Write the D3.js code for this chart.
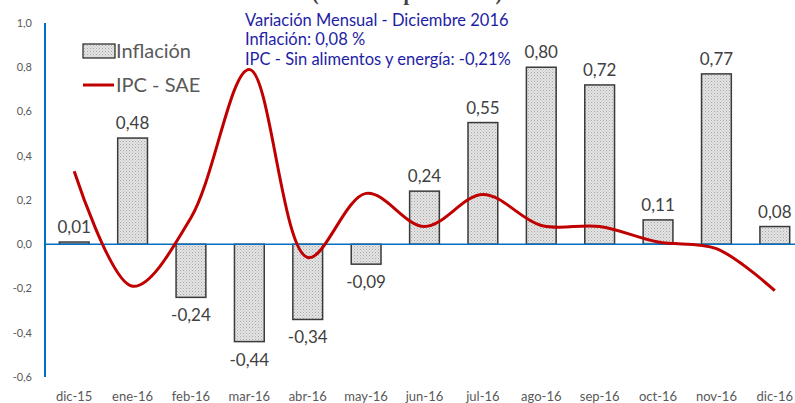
<!DOCTYPE html>
<html><head><meta charset="utf-8">
<script src="https://cdn.jsdelivr.net/npm/d3@7"></script>
<style>html,body{margin:0;padding:0;background:#fff;overflow:hidden}</style>
</head><body>
<svg id="c" width="795" height="403"></svg>
<script>
const categories = ["dic-15","ene-16","feb-16","mar-16","abr-16","may-16","jun-16","jul-16","ago-16","sep-16","oct-16","nov-16","dic-16"];
const inflacion = [0.01,0.48,-0.24,-0.44,-0.34,-0.09,0.24,0.55,0.80,0.72,0.11,0.77,0.08];
const ipcSae = [0.33,-0.19,0.12,0.79,-0.06,0.23,0.08,0.225,0.085,0.08,0.01,-0.02,-0.21];
const yTicks = [1.0,0.8,0.6,0.4,0.2,0.0,-0.2,-0.4,-0.6];
const title = "(variación porcentual)";
const notes = ["Variación Mensual - Diciembre 2016","Inflación: 0,08 %","IPC - Sin alimentos y energía: -0,21%"];
const legendLabels = ["Inflación","IPC - SAE"];

const svg = d3.select("#c");
const fmt = v => d3.format(".2f")(v).replace(".", ",").replace("\u2212","-");
const fmt1 = v => d3.format(".1f")(v).replace(".", ",").replace("\u2212","-");

const x = d3.scaleBand().domain(categories).range([45, 804]).paddingInner(0.49).paddingOuter(0.245);
const y = d3.scaleLinear().domain([-0.6, 1.0]).range([377, 23]);

const defs = svg.append("defs");
const pat = defs.append("pattern").attr("id","dots").attr("patternUnits","userSpaceOnUse").attr("width",3).attr("height",3);
pat.append("rect").attr("width",3).attr("height",3).attr("fill","#e4e4e4");
pat.append("rect").attr("x",0).attr("y",0).attr("width",1).attr("height",1).attr("fill","#a8a8a8");
pat.append("rect").attr("x",1.5).attr("y",1.5).attr("width",1).attr("height",1).attr("fill","#b8b8b8");

// title (clipped at top, as in the reference)
svg.append("text").attr("x", 407).attr("y", -0.5).attr("text-anchor","middle")
  .attr("font-family","Liberation Serif, serif").attr("font-weight","bold").attr("font-size",20)
  .attr("fill","#404040").text(title);

// y tick labels
svg.append("g").selectAll("text").data(yTicks).join("text")
  .attr("x", 32).attr("y", d => y(d)).attr("dy","0.35em").attr("text-anchor","end")
  .attr("font-family","Lato, sans-serif").attr("font-size",11).attr("fill","#595959")
  .text(d => fmt1(d));

// x labels
svg.append("g").selectAll("text").data(categories).join("text")
  .attr("x", d => x(d) + x.bandwidth()/2).attr("y", 401).attr("text-anchor","middle")
  .attr("font-family","Lato, sans-serif").attr("font-size",13).attr("fill","#595959")
  .text(d => d);

// bars
svg.append("g").selectAll("rect").data(inflacion).join("rect")
  .attr("x", (d,i) => x(categories[i]))
  .attr("width", x.bandwidth())
  .attr("y", d => y(Math.max(0,d)))
  .attr("height", d => Math.abs(y(d) - y(0)))
  .attr("fill","url(#dots)").attr("stroke","#3a3a3a").attr("stroke-width",1.5);

// axes lines
svg.append("line").attr("x1",45).attr("x2",795).attr("y1",y(0)).attr("y2",y(0))
  .attr("stroke","#0070C0").attr("stroke-width",1.5);
svg.append("line").attr("x1",45).attr("x2",45).attr("y1",y(1.0)).attr("y2",y(-0.6))
  .attr("stroke","#0070C0").attr("stroke-width",2);

// bar labels
svg.append("g").selectAll("text").data(inflacion).join("text")
  .attr("x", (d,i) => x(categories[i]) + x.bandwidth()/2)
  .attr("y", d => d >= 0 ? y(d) - 9 : y(d) + 24)
  .attr("text-anchor","middle")
  .attr("font-family","Lato, sans-serif").attr("font-size",17).attr("fill","#404040")
  .text(d => fmt(d));

// line
const line = d3.line()
  .x((d,i) => x(categories[i]) + x.bandwidth()/2)
  .y(d => y(d))
  .curve(d3.curveCatmullRom.alpha(0.5));
svg.append("path").datum(ipcSae).attr("d", line)
  .attr("fill","none").attr("stroke","#C00000").attr("stroke-width",3);

// legend
svg.append("rect").attr("x",83).attr("y",44).attr("width",32).attr("height",14)
  .attr("fill","url(#dots)").attr("stroke","#222").attr("stroke-width",1.2);
svg.append("line").attr("x1",83).attr("x2",114).attr("y1",85).attr("y2",85)
  .attr("stroke","#C00000").attr("stroke-width",3);
svg.append("g").selectAll("text").data(legendLabels).join("text")
  .attr("x",116).attr("y",(d,i)=> i===0 ? 58 : 92)
  .attr("font-family","Lato, sans-serif").attr("font-size",20).attr("fill","#595959")
  .text(d => d);

// annotation
svg.append("g").selectAll("text").data(notes).join("text")
  .attr("x",245).attr("y",(d,i)=>[26,45,65][i])
  .attr("font-family","Lato, sans-serif").attr("font-size",16.5).attr("fill","#1E1EA5")
  .text(d => d);
</script>
</body></html>
